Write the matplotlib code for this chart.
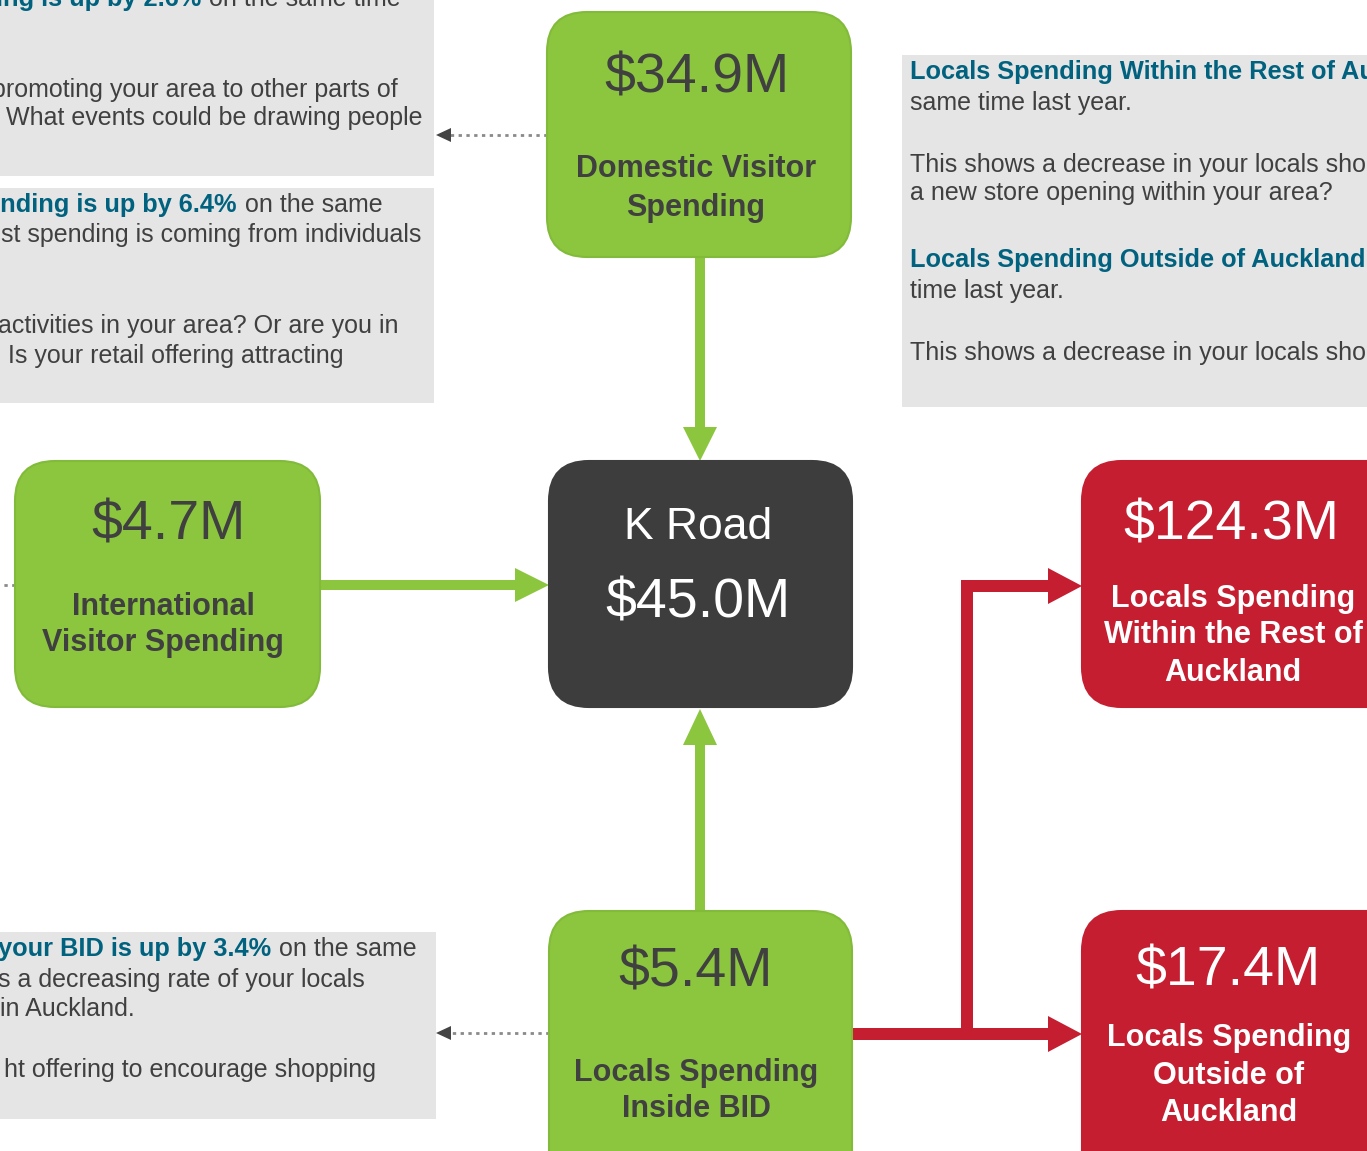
import matplotlib
matplotlib.use('Agg')  # no display
import matplotlib.pyplot as plt
from matplotlib.patches import FancyBboxPatch, FancyArrow, Rectangle, Polygon

plt.rcParams['font.family'] = ['Liberation Sans', 'DejaVu Sans']

W, H = 1367, 1151
GREEN = '#8cc63f'
DARK = '#3d3d3d'
RED = '#c41e30'
PANEL = '#e5e5e5'
TEXT = '#404040'
BLUE = '#00627f'

# --- diagram data ---
node_keys = ['domestic', 'international', 'kroad', 'bid', 'rest_akl', 'outside_akl']
node_amounts = ['$34.9M', '$4.7M', '$45.0M', '$5.4M', '$124.3M', '$17.4M']
node_labels = [
    ['Domestic Visitor', 'Spending'],
    ['International', 'Visitor Spending'],
    ['K Road'],
    ['Locals Spending', 'Inside BID'],
    ['Locals Spending', 'Within the Rest of', 'Auckland'],
    ['Locals Spending', 'Outside of', 'Auckland'],
]
node_colors = [GREEN, GREEN, DARK, GREEN, RED, RED]

# commentary panels: (bold part, plain part) per line
panel_top_lines = [('ing is up by 2.6%', 'on the same time'),
                   ('', ''),
                   ('', 'promoting your area to other parts of'),
                   ('', 'What events could be drawing people')]
panel_mid_lines = [('ending is up by 6.4%', 'on the same'),
                   ('', 'st spending is coming from individuals'),
                   ('', 'activities in your area? Or are you in'),
                   ('', 'Is your retail offering attracting')]
panel_right_lines = [('Locals Spending Within the Rest of Auckland', ''),
                     ('', 'same time last year.'),
                     ('', 'This shows a decrease in your locals shopping'),
                     ('', 'a new store opening within your area?'),
                     ('Locals Spending Outside of Auckland has', ''),
                     ('', 'time last year.'),
                     ('', 'This shows a decrease in your locals shopping')]
panel_bottom_lines = [('your BID is up by 3.4%', 'on the same'),
                      ('', 's a decreasing rate of your locals'),
                      ('', 'in Auckland.'),
                      ('', 'ht offering to encourage shopping')]

# --- layout (pixel coordinates, origin top-left) ---
box_geom = {
    'domestic': (547, 12, 304, 245),
    'international': (15, 461, 305, 246),
    'kroad': (549, 461, 303, 246),
    'bid': (549, 911, 303, 290),
    'rest_akl': (1082, 461, 330, 246),
    'outside_akl': (1082, 911, 330, 290),
}
amount_pos = {
    'domestic': (697, 78), 'international': (168, 525), 'kroad': (698, 603),
    'bid': (696, 972), 'rest_akl': (1231, 525), 'outside_akl': (1228, 971),
}
label_x = {'domestic': 696, 'international': 163, 'kroad': 698,
           'bid': 696, 'rest_akl': 1233, 'outside_akl': 1229}
label_y = {'domestic': [169, 208], 'international': [607, 643], 'kroad': [527],
           'bid': [1073, 1109], 'rest_akl': [599, 635, 673],
           'outside_akl': [1038, 1076, 1113]}

fig = plt.figure(figsize=(W / 100, H / 100), dpi=100)
ax = fig.add_axes([0, 0, 1, 1])
ax.set_xlim(0, W)
ax.set_ylim(H, 0)
ax.axis('off')

# grey commentary panels
for (x, y, w, h) in [(-10, -10, 444, 186), (-10, 188, 444, 215),
                     (902, 55, 480, 352), (-10, 932, 446, 187)]:
    ax.add_patch(Rectangle((x, y), w, h, facecolor=PANEL, edgecolor='none', zorder=0))


def panel_line(y, bold, plain, split_x=None, right_x=None, left_x=None):
    y = y + 2
    if left_x is not None:
        if bold:
            ax.text(left_x, y, bold, fontsize=18.3, fontweight='bold', color=BLUE,
                    ha='left', va='center')
        else:
            ax.text(left_x, y, plain, fontsize=18, color=TEXT, ha='left', va='center')
        return
    if bold:
        ax.text(split_x, y, bold, fontsize=18.3, fontweight='bold', color=BLUE,
                ha='right', va='center')
        ax.text(split_x + 8, y, plain, fontsize=18, color=TEXT, ha='left', va='center')
    elif plain:
        ax.text(right_x, y, plain, fontsize=18, color=TEXT, ha='right', va='center')


# top-left panel
panel_line(-3, *panel_top_lines[0], split_x=201)
panel_line(88, *panel_top_lines[2], right_x=398)
panel_line(116, *panel_top_lines[3], right_x=423)
# second panel
panel_line(203, *panel_mid_lines[0], split_x=237)
panel_line(233, *panel_mid_lines[1], right_x=421)
panel_line(324, *panel_mid_lines[2], right_x=398)
panel_line(354, *panel_mid_lines[3], right_x=343)
# right panel
for yy, (b, p) in zip([70, 101, 163, 191, 258, 289, 351], panel_right_lines):
    panel_line(yy, b, p, left_x=910)
# bottom-left panel
panel_line(947, *panel_bottom_lines[0], split_x=271)
panel_line(978, *panel_bottom_lines[1], right_x=365)
panel_line(1007, *panel_bottom_lines[2], right_x=135)
panel_line(1068, *panel_bottom_lines[3], right_x=376)

# flow arrows
akw = dict(length_includes_head=True, edgecolor='none', zorder=1)
ax.add_patch(FancyArrow(700, 257, 0, 204, width=10, head_width=34, head_length=34,
                        facecolor=GREEN, **akw))
ax.add_patch(FancyArrow(320, 585, 229, 0, width=10, head_width=34, head_length=34,
                        facecolor=GREEN, **akw))
ax.add_patch(FancyArrow(700, 911, 0, -202, width=10, head_width=34, head_length=36,
                        facecolor=GREEN, **akw))
ax.add_patch(FancyArrow(852, 1034, 230, 0, width=12, head_width=36, head_length=34,
                        facecolor=RED, **akw))
ax.add_patch(FancyArrow(961, 586, 121, 0, width=12, head_width=36, head_length=34,
                        facecolor=RED, **akw))
ax.add_patch(Rectangle((961, 580), 12, 460, facecolor=RED, edgecolor='none', zorder=1))

# dotted pointer arrows to panels
for (x0, x1, yy) in [(547, 450, 135), (549, 450, 1033), (15, -5, 585)]:
    ax.plot([x0, x1], [yy, yy], color='#8a8a8a', lw=2, ls=(0, (1.2, 1.6)), zorder=1)
    if x1 > 0:
        ax.add_patch(Polygon([[436, yy], [451, yy - 7], [451, yy + 7]],
                             closed=True, facecolor='#444444', edgecolor='none', zorder=1))

# nodes
for key, amt, labels, col in zip(node_keys, node_amounts, node_labels, node_colors):
    x, y, w, h = box_geom[key]
    edge = '#82bb3a' if col == GREEN else col
    ax.add_patch(FancyBboxPatch((x, y), w, h, boxstyle='round,pad=0,rounding_size=40',
                                facecolor=col, edgecolor=edge, lw=1.5, zorder=2))
    txt_col = TEXT if col == GREEN else 'white'
    ax.text(*amount_pos[key], amt, fontsize=40, color=txt_col, ha='center',
            va='center', zorder=3)
    for line, ly in zip(labels, label_y[key]):
        if key == 'kroad':
            ax.text(label_x[key], ly, line, fontsize=32, color='white',
                    ha='center', va='center', zorder=3)
        else:
            ax.text(label_x[key], ly, line, fontsize=22, fontweight='bold',
                    color=txt_col, ha='center', va='center', zorder=3)

fig.savefig('out.png', dpi=100)
